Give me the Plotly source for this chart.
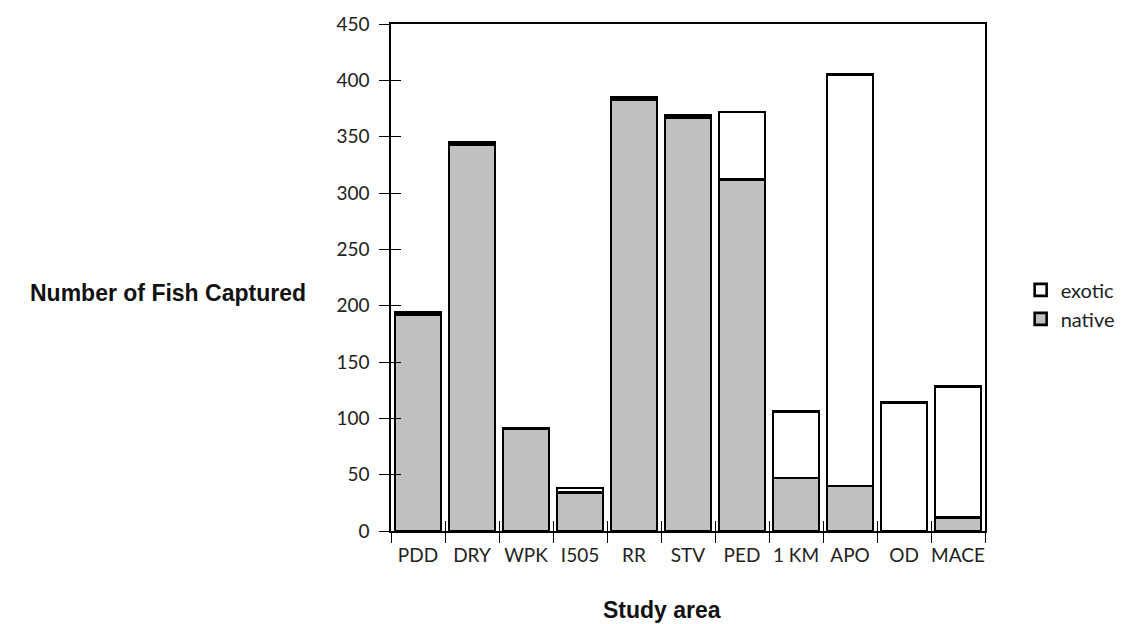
import plotly.graph_objects as go

categories = ["PDD", "DRY", "WPK", "I505", "RR", "STV", "PED", "1 KM", "APO", "OD", "MACE"]
native = [192, 343, 91, 34, 383, 367, 312, 47, 40, 0, 12]
exotic = [2, 2, 0, 4, 2, 2, 60, 59, 365, 114, 116]
y_ticks = [0, 50, 100, 150, 200, 250, 300, 350, 400, 450]

tick_font = dict(family="Lato, Open Sans, Arial", size=19, color="#222")
legend_font = dict(family="Lato, Open Sans, Arial", size=20, color="#222")
title_font = dict(family="Liberation Sans, Arial", size=23, color="#111")

n = len(categories)
boundaries = [i - 0.5 for i in range(n + 1)]

fig = go.Figure()
fig.add_trace(go.Bar(x=categories, y=native, name="native", legendgroup="n",
                     marker=dict(color="#c0c0c0", line=dict(color="black", width=2.6))))
fig.add_trace(go.Bar(x=categories, y=exotic, name="exotic", legendgroup="e",
                     marker=dict(color="white", line=dict(color="black", width=2.6))))
# helper trace so the overlay axes (crossing tick marks) are drawn
fig.add_trace(go.Scatter(x=[None], y=[None], xaxis="x2", yaxis="y2",
                         showlegend=False, hoverinfo="skip"))

fig.update_layout(
    barmode="stack",
    bargap=0.15,
    width=1126, height=624,
    margin=dict(l=383, r=149, t=16, b=101, autoexpand=False),
    plot_bgcolor="white", paper_bgcolor="white",
    showlegend=True,
    legend=dict(x=1.06, y=0.447, xanchor="left", yanchor="middle",
                traceorder="reversed", font=legend_font,
                itemwidth=30, tracegroupgap=12),
    xaxis=dict(showline=True, linecolor="black", linewidth=1.5, mirror=True,
               ticks="outside", ticklen=10, tickcolor="black", tickwidth=1.2,
               tickson="boundaries", tickangle=0, automargin=False,
               tickfont=tick_font, ticklabelstandoff=6),
    xaxis2=dict(overlaying="x", anchor="y", side="bottom", range=[-0.5, n - 0.5],
                tickvals=boundaries, ticks="inside", ticklen=10, tickcolor="black",
                tickwidth=1.2, showticklabels=False, showgrid=False, zeroline=False,
                showline=False, automargin=False),
    yaxis=dict(range=[0, 450], tickvals=y_ticks, showline=True, linecolor="black",
               linewidth=1.5, mirror=True, ticks="outside", ticklen=10, tickcolor="black",
               tickwidth=1.2, tickfont=tick_font, showgrid=False, zeroline=False,
               ticklabelstandoff=6, automargin=False),
    yaxis2=dict(overlaying="y", anchor="x", side="left", range=[0, 450], tickvals=y_ticks,
                ticks="inside", ticklen=10, tickcolor="black", tickwidth=1.2,
                showticklabels=False, showgrid=False, zeroline=False, showline=False,
                automargin=False),
    annotations=[
        dict(text="<b>Number of Fish Captured</b>", xref="paper", yref="paper",
             x=-0.14, y=0.47, xanchor="right", yanchor="middle",
             showarrow=False, font=title_font),
        dict(text="<b>Study area</b>", xref="paper", yref="paper",
             x=0.456, y=-0.156, xanchor="center", yanchor="middle",
             showarrow=False, font=title_font),
    ],
)

fig.write_html("out.html")
